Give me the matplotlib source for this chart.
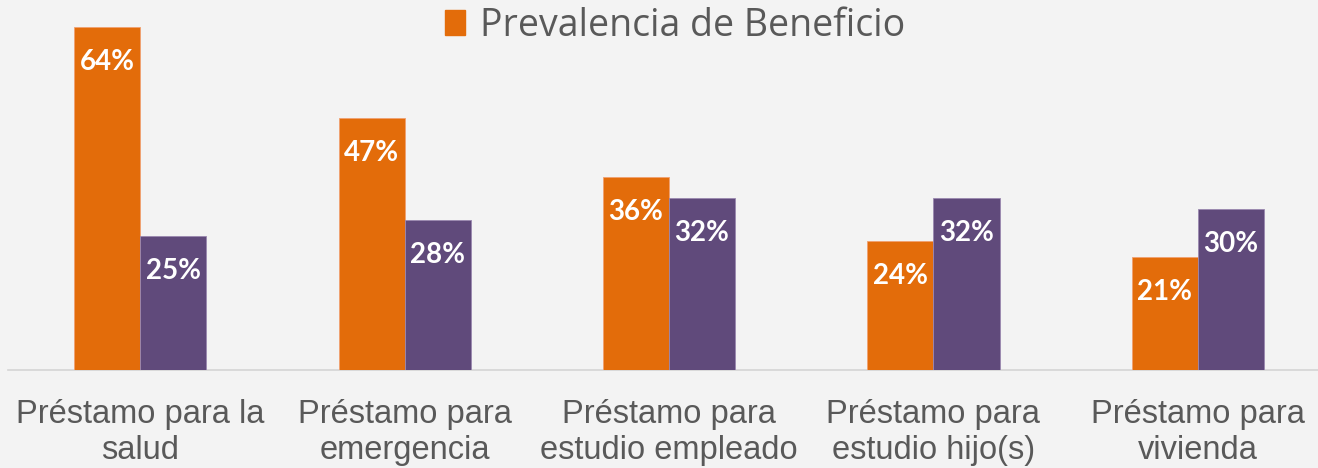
import numpy as np
import matplotlib
matplotlib.use("Agg")
import matplotlib.pyplot as plt
import matplotlib.patches as mpatches

# ── data ─────────────────────────────────────────────────────────────────────
categories = [
    "Préstamo para la\nsalud",
    "Préstamo para\nemergencia",
    "Préstamo para\nestudio empleado",
    "Préstamo para\nestudio hijo(s)",
    "Préstamo para\nvivienda",
]
prevalencia = [64, 47, 36, 24, 21]   # orange series
segunda = [25, 28, 32, 32, 30]       # purple series (no legend entry)

ORANGE = "#E36C0A"
PURPLE = "#604A7B"
GREY_TXT = "#595959"

# ── figure ───────────────────────────────────────────────────────────────────
W, H = 1318, 468
fig = plt.figure(figsize=(W / 100, H / 100), dpi=100, facecolor="#f3f3f3")
ax = fig.add_axes([8 / W, (H - 370) / H, 1322 / W, 370 / H])
ax.set_facecolor("none")

x = np.arange(len(categories))
bw = 0.25
b1 = ax.bar(x - bw / 2, prevalencia, bw, color=ORANGE, edgecolor="#f0a070",
            linewidth=0.6, zorder=3)
b2 = ax.bar(x + bw / 2, segunda, bw, color=PURPLE, edgecolor="#9a88b0",
            linewidth=0.6, zorder=3)

for bars, vals in [(b1, prevalencia), (b2, segunda)]:
    for rect, v in zip(bars, vals):
        ax.annotate(f"{v}%", (rect.get_x() + rect.get_width() / 2, v),
                    xytext=(0, -25), textcoords="offset points",
                    ha="center", va="center", color="white",
                    fontsize=20, fontweight="bold", family="Lato", zorder=4)

ax.set_xlim(-0.5, len(categories) - 0.5)
ax.set_ylim(0, 69)
ax.set_yticks([])
ax.set_xticks(x)
ax.set_xticklabels(categories, fontsize=23.5, color=GREY_TXT,
                   family="Liberation Sans", linespacing=1.22)
ax.tick_params(axis="x", length=0, pad=21)
for s in ["top", "right", "left"]:
    ax.spines[s].set_visible(False)
ax.spines["bottom"].set_color("#d4d4d4")
ax.spines["bottom"].set_linewidth(1.2)

fig.legend(handles=[mpatches.Patch(color=ORANGE, label="Prevalencia de Beneficio")],
           loc="upper center", bbox_to_anchor=(675 / W, 1.058), frameon=False,
           prop={"family": "Open Sans", "size": 27}, labelcolor=GREY_TXT,
           handlelength=0.55, handleheight=0.65, handletextpad=0.4)

plt.savefig("out.png", dpi=100, facecolor=fig.get_facecolor())
